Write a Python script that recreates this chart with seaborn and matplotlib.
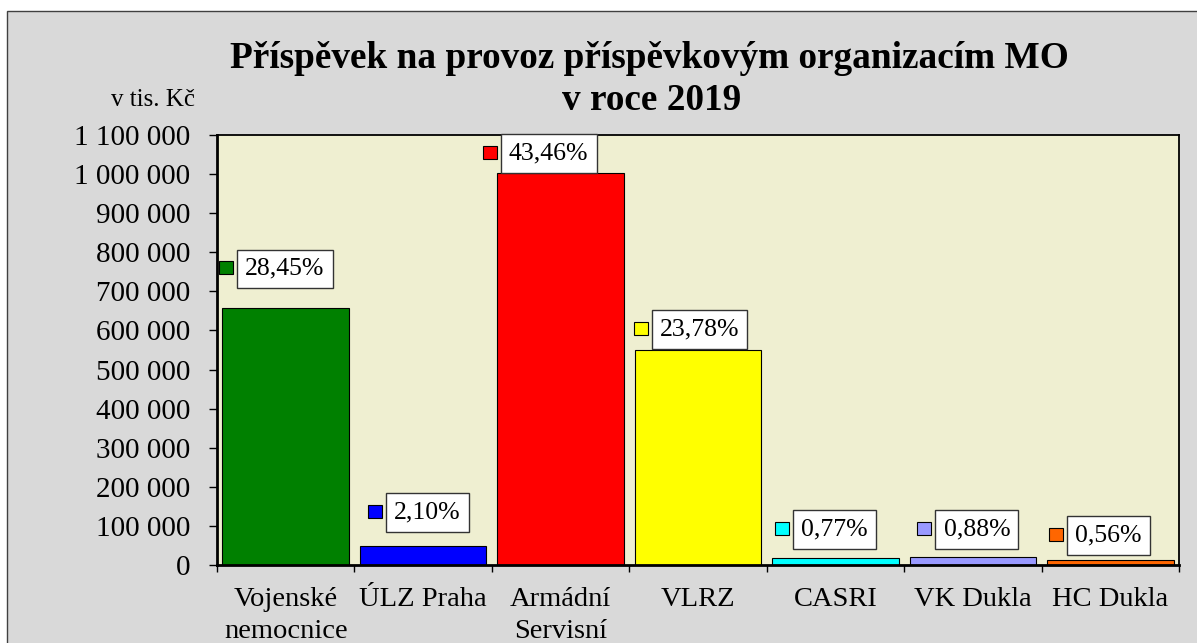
import numpy as np
import seaborn as sns
import matplotlib.pyplot as plt
from matplotlib.patches import Rectangle
from matplotlib.ticker import FuncFormatter

# data (v tis. Kč)
categories = ["Vojenské\nnemocnice", "ÚLZ Praha", "Armádní\nServisní", "VLRZ",
              "CASRI", "VK Dukla", "HC Dukla"]
values = [656800, 48500, 1003300, 549000, 17800, 20300, 12900]
shares = ["28,45%", "2,10%", "43,46%", "23,78%", "0,77%", "0,88%", "0,56%"]
colors = ["#008000", "#0000FF", "#FF0000", "#FFFF00", "#00FFFF", "#9999FF", "#FF6600"]

# label placement tweaks (pixels from bar centre / bar top)
label_dx = [-1, 4, -12, 1.5, -1, 4, -2]
label_dy = [39.5, 33.5, 19.5, 21, 28.5, 27.5, 24.5]

plt.rcParams['font.family'] = ['Liberation Serif', 'DejaVu Serif']

W, H = 1197, 643
fig = plt.figure(figsize=(W / 100, H / 100), dpi=100)
fig.patch.set_facecolor("white")

# chart area background (cut off at right and bottom)
fig.add_artist(Rectangle((7 / W, -0.1), 1.2, 1 - 11 / H + 0.1, transform=fig.transFigure,
                         facecolor="#D9D9D9", edgecolor="#404040", linewidth=1, zorder=-10))

ax = fig.add_axes([217 / W, 1 - 565 / H, (1179 - 217) / W, (565 - 135) / H])
ax.set_facecolor("#EFEFD1")

sns.barplot(x=categories, y=values, hue=categories, palette=colors, legend=False,
            width=0.92, edgecolor="black", linewidth=0.8, saturation=1, ax=ax)

ax.set_ylim(0, 1100000)
ax.set_xlim(-0.5, len(categories) - 0.5)
ax.set_yticks(np.arange(0, 1100001, 100000))
ax.yaxis.set_major_formatter(FuncFormatter(lambda v, p: f"{int(v):,}".replace(",", " ")))
ax.tick_params(axis='y', labelsize=21, length=6, width=1, pad=13, direction='out')

ax.set_xticks(np.arange(-0.5, len(categories), 1))
ax.set_xticklabels([])
ax.set_xticks(range(len(categories)), labels=categories, minor=True)
ax.tick_params(axis='x', which='major', length=5, width=1, direction='out')
ax.tick_params(axis='x', which='minor', length=0, labelsize=20.5, pad=16)
for lab in ax.get_xticklabels(minor=True):
    lab.set_linespacing(1.35)
ax.set_xlabel("")
ax.set_ylabel("")

for side in ["top", "right"]:
    ax.spines[side].set_linewidth(1.3)
for side in ["left", "bottom"]:
    ax.spines[side].set_linewidth(2)

# title and unit
fig.text(649 / W, 1 - 58 / H, "Příspěvek na provoz příspěvkovým organizacím MO",
         ha="center", va="center", fontsize=26.8, fontweight="bold")
fig.text(652 / W, 1 - 101 / H, "v roce 2019",
         ha="center", va="center", fontsize=26.8, fontweight="bold")
fig.text(195 / W, 1 - 100 / H, "v tis. Kč", ha="right", va="center", fontsize=18)

# percentage labels with white boxes
labels = []
for i, (v, s) in enumerate(zip(values, shares)):
    t = ax.annotate(s, xy=(i, v), xytext=(label_dx[i] * 0.72, label_dy[i] * 0.72),
                    textcoords="offset points", ha="center", va="center", fontsize=18.5,
                    bbox=dict(boxstyle="square,pad=0.32", fc="white", ec="#333333", lw=1),
                    annotation_clip=False, zorder=5)
    labels.append(t)

fig.canvas.draw()
renderer = fig.canvas.get_renderer()
inv = fig.transFigure.inverted()
for t, c in zip(labels, colors):
    ext = t.get_bbox_patch().get_window_extent(renderer)
    yc = (ext.y0 + ext.y1) / 2 + 1
    x1 = ext.x0 - 4
    (fx0, fy0), (fx1, fy1) = inv.transform([(x1 - 14, yc - 6.5), (x1, yc + 6.5)])
    fig.add_artist(Rectangle((fx0, fy0), fx1 - fx0, fy1 - fy0, transform=fig.transFigure,
                             facecolor=c, edgecolor="black", linewidth=0.8, zorder=6))

fig.savefig("out.png", dpi=100)
